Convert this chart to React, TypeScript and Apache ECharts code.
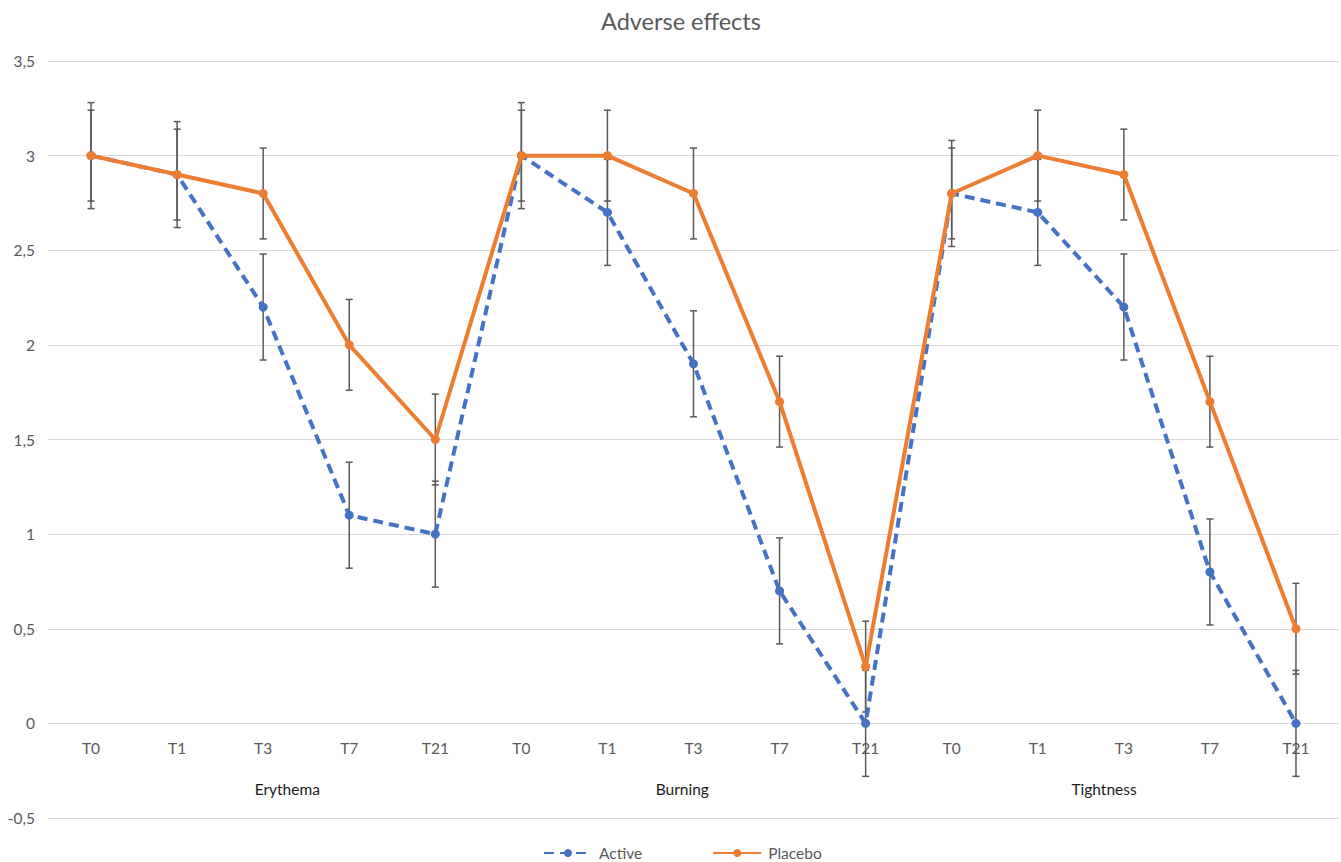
import React, { useEffect, useRef } from "react";
import * as echarts from "echarts";

const timepoints = ["T0", "T1", "T3", "T7", "T21"];
const groups = ["Erythema", "Burning", "Tightness"];
const groupLabelPositions = [2.78, 7.37, 12.27];
const categories = groups.flatMap((g) => timepoints.map((t) => t));

const activeValues = [3.0, 2.9, 2.2, 1.1, 1.0, 3.0, 2.7, 1.9, 0.7, 0.0, 2.8, 2.7, 2.2, 0.8, 0.0];
const placeboValues = [3.0, 2.9, 2.8, 2.0, 1.5, 3.0, 3.0, 2.8, 1.7, 0.3, 2.8, 3.0, 2.9, 1.7, 0.5];
const activeErrors = [0.28, 0.28, 0.28, 0.28, 0.28, 0.28, 0.28, 0.28, 0.28, 0.28, 0.28, 0.28, 0.28, 0.28, 0.28];
const placeboErrors = [0.24, 0.24, 0.24, 0.24, 0.24, 0.24, 0.24, 0.24, 0.24, 0.24, 0.24, 0.24, 0.24, 0.24, 0.24];

const ACTIVE = "#4472C4";
const PLACEBO = "#ED7D31";
const TEXT = "#595959";
const GRID = "#D9D9D9";
const FONT = "Lato, 'Open Sans', sans-serif";

function errorData(values: number[], errs: number[]) {
  return values.map((v, i) => [i, v - errs[i], v + errs[i]]);
}

function errorSeries(name: string, values: number[], errs: number[]) {
  return {
    type: "custom",
    name: name + " err",
    xAxisIndex: 0,
    yAxisIndex: 0,
    z: 3,
    silent: true,
    data: errorData(values, errs),
    renderItem: (params: any, api: any) => {
      const x = api.value(0);
      const lo = api.coord([x, api.value(1)]);
      const hi = api.coord([x, api.value(2)]);
      const w = 3.5;
      const style = { stroke: "#595959", lineWidth: 1.5 };
      return {
        type: "group",
        children: [
          { type: "line", shape: { x1: lo[0], y1: lo[1], x2: hi[0], y2: hi[1] }, style },
          { type: "line", shape: { x1: lo[0] - w, y1: lo[1], x2: lo[0] + w, y2: lo[1] }, style },
          { type: "line", shape: { x1: hi[0] - w, y1: hi[1], x2: hi[0] + w, y2: hi[1] }, style },
        ],
      };
    },
  };
}

export default function App() {
  const ref = useRef<HTMLDivElement>(null);
  useEffect(() => {
    if (!ref.current) return;
    const chart = echarts.init(ref.current, null, { renderer: "svg" });
    chart.setOption({
      animation: false,
      backgroundColor: "#ffffff",
      textStyle: { fontFamily: FONT },
      title: {
        text: "Adverse effects",
        left: 596,
        top: 4,
        textStyle: { fontFamily: FONT, fontSize: 23.5, fontWeight: "normal", color: TEXT },
      },
      legend: {
        bottom: 1,
        left: 543,
        padding: 0,
        itemWidth: 48,
        itemHeight: 10,
        itemGap: 70,
        textStyle: { fontFamily: FONT, fontSize: 15.5, color: TEXT, padding: [0, 0, 0, 2] },
        data: ["Active", "Placebo"],
      },
      grid: { left: 48, right: 2, top: 61, bottom: 44, containLabel: false },
      xAxis: [
        {
          type: "category",
          data: categories,
          boundaryGap: true,
          position: "bottom",
          offset: -95,
          axisLine: { show: false, onZero: false },
          axisTick: { show: false },
          axisLabel: { color: TEXT, fontSize: 15.5, fontFamily: FONT, margin: 17, interval: 0 },
          splitLine: { show: false },
        },
        {
          type: "value",
          min: 0,
          max: categories.length,
          position: "bottom",
          offset: -45,
          axisLine: { show: false, onZero: false },
          axisTick: { show: false },
          splitLine: { show: false },
          axisLabel: {
            color: "#1a1a1a",
            fontSize: 15.5,
            fontFamily: FONT,
            margin: 8,
            showMinLabel: true,
            showMaxLabel: true,
            customValues: groupLabelPositions,
            formatter: (v: number) => {
              const idx = groupLabelPositions.findIndex((p) => Math.abs(p - v) < 1e-6);
              return idx >= 0 ? groups[idx] : "";
            },
          },
        },
      ],
      yAxis: {
        type: "value",
        min: -0.5,
        max: 3.5,
        interval: 0.5,
        axisLine: { show: false },
        axisTick: { show: false },
        axisLabel: {
          color: TEXT,
          fontSize: 15.5,
          fontFamily: FONT,
          margin: 13,
          formatter: (v: number) => String(Math.round(v * 10) / 10).replace(".", ","),
        },
        splitLine: { lineStyle: { color: GRID, width: 1 } },
      },
      series: [
        errorSeries("Active", activeValues, activeErrors),
        errorSeries("Placebo", placeboValues, placeboErrors),
        {
          name: "Active",
          type: "line",
          data: activeValues,
          z: 4,
          symbol: "circle",
          symbolSize: 9,
          itemStyle: { color: ACTIVE },
          lineStyle: { color: ACTIVE, width: 4, type: [10, 6], cap: "butt" },
        },
        {
          name: "Placebo",
          type: "line",
          data: placeboValues,
          z: 5,
          symbol: "circle",
          symbolSize: 9,
          itemStyle: { color: PLACEBO },
          lineStyle: { color: PLACEBO, width: 4 },
        },
      ],
    });
    return () => chart.dispose();
  }, []);
  return (
    <div
      ref={ref}
      style={{ position: "fixed", left: 0, top: 0, width: 1341, height: 862, background: "#fff" }}
    />
  );
}
